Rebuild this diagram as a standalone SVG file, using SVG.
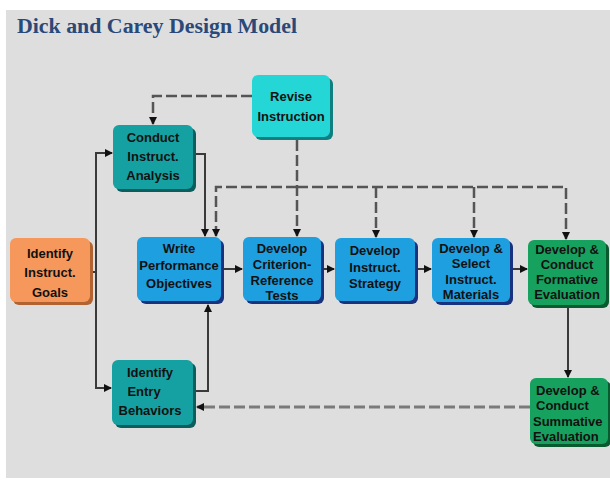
<svg xmlns="http://www.w3.org/2000/svg" width="610" height="483" viewBox="0 0 610 483">
<style>
.bg{fill:#dedede}
.title{font-family:"Liberation Serif",serif;font-weight:bold;font-size:20px;fill:#2a4878}
.lbl{font-family:"Liberation Sans",Arial,sans-serif;font-weight:bold;font-size:13px;fill:#111;text-anchor:middle}
.lblL{font-family:"Liberation Sans",Arial,sans-serif;font-weight:bold;font-size:13px;fill:#111}
.solid{fill:none;stroke:#3a3a3a;stroke-width:2}
.dash{fill:none;stroke:#555;stroke-width:2.5;stroke-dasharray:11 4}
.dashlt{fill:none;stroke:#7a7a7a;stroke-width:3;stroke-dasharray:11 4}
.orange{fill:#f6985c}.orangeS{fill:#b2632f}
.teal{fill:#15a1a1}.tealS{fill:#0a5e5e}
.cyan{fill:#24d6d6}.cyanS{fill:#0f7f7f}
.blue{fill:#1e9fe0}.blueS{fill:#17337f}
.green{fill:#17a15e}.greenS{fill:#0a5a30}
</style>
<defs>
<marker id="ah" viewBox="0 0 8 8" refX="7" refY="4" markerWidth="8" markerHeight="8" markerUnits="userSpaceOnUse" orient="auto">
<path d="M0,0 L8,4 L0,8 z" fill="#111"/>
</marker>
</defs>
<rect x="0" y="0" width="610" height="483" fill="#ffffff"/>
<rect class="bg" x="6" y="10" width="604" height="468"/>
<text class="title" x="17" y="33" textLength="280" lengthAdjust="spacingAndGlyphs">Dick and Carey Design Model</text>

<g id="connectors">
<path class="solid" d="M92,272 H96"/>
<path class="solid" d="M96,272 V153 H112" marker-end="url(#ah)"/>
<path class="solid" d="M96,272 V388 H111" marker-end="url(#ah)"/>
<path class="solid" d="M193,154 H205 V236" marker-end="url(#ah)"/>
<path class="solid" d="M193,391 H208 V305" marker-end="url(#ah)"/>
<path class="solid" d="M224,269 H242" marker-end="url(#ah)"/>
<path class="solid" d="M324,269 H334" marker-end="url(#ah)"/>
<path class="solid" d="M418,269 H431" marker-end="url(#ah)"/>
<path class="solid" d="M513,269 H527" marker-end="url(#ah)"/>
<path class="solid" d="M568,308 V377" marker-end="url(#ah)"/>
<path class="dash" d="M252,96 H153 V124" marker-end="url(#ah)"/>
<path class="dash" d="M297,140 V236" marker-end="url(#ah)"/>
<path class="dash" d="M297,187 H216 V236" marker-end="url(#ah)"/>
<path class="dash" d="M297,187 H566 V239" marker-end="url(#ah)"/>
<path class="dash" d="M376,187 V237" marker-end="url(#ah)"/>
<path class="dash" d="M474,187 V237" marker-end="url(#ah)"/>
<path class="dashlt" d="M530,407 H197" marker-end="url(#ah)"/>
</g>

<g id="revise">
<rect class="cyanS" x="255" y="78" width="78" height="62" rx="6"/>
<rect class="cyan" x="252" y="75" width="78" height="62" rx="6"/>
<text class="lbl" x="291" y="101">Revise</text>
<text class="lbl" x="291" y="121">Instruction</text>
</g>

<g id="conduct">
<rect class="tealS" x="116" y="128" width="80" height="64" rx="6"/>
<rect class="teal" x="113" y="125" width="80" height="64" rx="6"/>
<text class="lbl" x="153" y="142">Conduct</text>
<text class="lbl" x="153" y="161">Instruct.</text>
<text class="lbl" x="153" y="180">Analysis</text>
</g>

<g id="goals">
<rect class="orangeS" x="13" y="241" width="80" height="64" rx="6"/>
<rect class="orange" x="10" y="238" width="80" height="64" rx="6"/>
<text class="lbl" x="50" y="258">Identify</text>
<text class="lbl" x="50" y="277">Instruct.</text>
<text class="lbl" x="50" y="297">Goals</text>
</g>

<g id="write">
<rect class="blueS" x="140" y="240" width="84" height="64" rx="6"/>
<rect class="blue" x="137" y="237" width="84" height="64" rx="6"/>
<text class="lbl" x="179" y="253">Write</text>
<text class="lbl" x="179" y="270">Performance</text>
<text class="lbl" x="179" y="288">Objectives</text>
</g>

<g id="criterion">
<rect class="blueS" x="246" y="240" width="78" height="64" rx="6"/>
<rect class="blue" x="243" y="237" width="78" height="64" rx="6"/>
<text class="lbl" x="282" y="253">Develop</text>
<text class="lbl" x="282" y="269">Criterion-</text>
<text class="lbl" x="282" y="285">Reference</text>
<text class="lbl" x="282" y="300">Tests</text>
</g>

<g id="strategy">
<rect class="blueS" x="338" y="241" width="80" height="63" rx="6"/>
<rect class="blue" x="335" y="238" width="80" height="63" rx="6"/>
<text class="lbl" x="375" y="255">Develop</text>
<text class="lbl" x="375" y="272">Instruct.</text>
<text class="lbl" x="375" y="288">Strategy</text>
</g>

<g id="materials">
<rect class="blueS" x="435" y="241" width="78" height="64" rx="6"/>
<rect class="blue" x="432" y="238" width="78" height="64" rx="6"/>
<text class="lbl" x="471" y="253">Develop &amp;</text>
<text class="lbl" x="471" y="268">Select</text>
<text class="lbl" x="471" y="284">Instruct.</text>
<text class="lbl" x="471" y="299">Materials</text>
</g>

<g id="formative">
<rect class="greenS" x="531" y="243" width="78" height="65" rx="6"/>
<rect class="green" x="528" y="240" width="78" height="65" rx="6"/>
<text class="lbl" x="567" y="254">Develop &amp;</text>
<text class="lbl" x="567" y="269">Conduct</text>
<text class="lbl" x="567" y="284">Formative</text>
<text class="lbl" x="567" y="299">Evaluation</text>
</g>

<g id="entry">
<rect class="tealS" x="115" y="363" width="81" height="65" rx="6"/>
<rect class="teal" x="112" y="360" width="81" height="65" rx="6"/>
<text class="lbl" x="150" y="377">Identify</text>
<text class="lbl" x="144" y="396">Entry</text>
<text class="lbl" x="150" y="415">Behaviors</text>
</g>

<g id="summative">
<rect class="greenS" x="533" y="381" width="78" height="66" rx="6"/>
<rect class="green" x="530" y="378" width="78" height="66" rx="6"/>
<text class="lblL" x="536" y="395">Develop &amp;</text>
<text class="lblL" x="536" y="410">Conduct</text>
<text class="lblL" x="533" y="426">Summative</text>
<text class="lblL" x="533" y="441">Evaluation</text>
</g>
</svg>
